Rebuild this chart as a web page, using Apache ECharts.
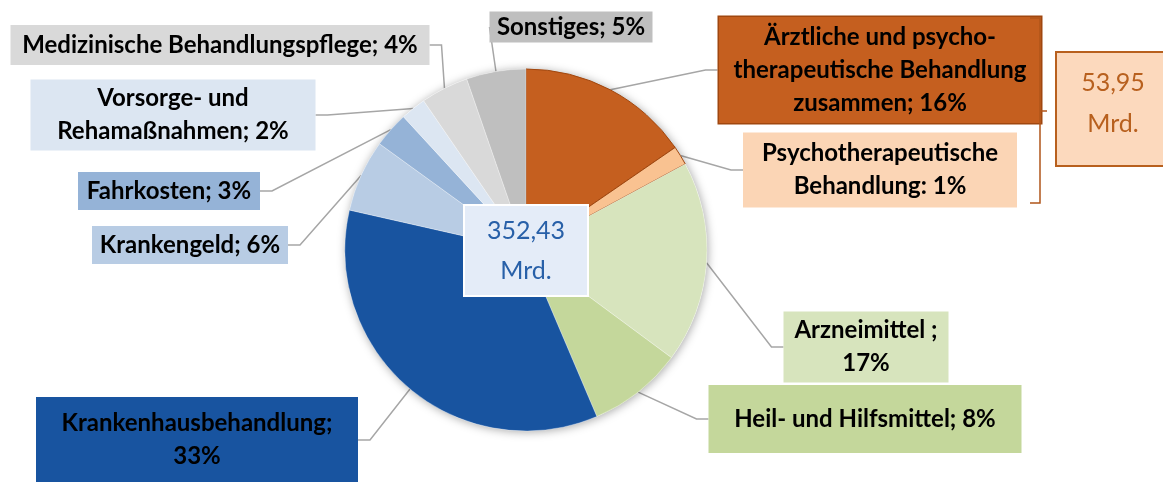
<!DOCTYPE html>
<html>
<head>
<meta charset="utf-8">
<script src="https://cdn.jsdelivr.net/npm/echarts@6/dist/echarts.min.js"></script>
<style>
  html, body { margin: 0; padding: 0; background: #fff; }
  #chart { width: 1163px; height: 482px; }
</style>
</head>
<body>
<div id="chart"></div>
<script>
// Ausgabenbereiche (Mrd. Euro, aus der Grafik geschaetzt)
const categories = [
  'Ärztliche und psychotherapeutische Behandlung',
  'Psychotherapeutische Behandlung',
  'Arzneimittel',
  'Heil- und Hilfsmittel',
  'Krankenhausbehandlung',
  'Krankengeld',
  'Fahrkosten',
  'Vorsorge- und Rehamaßnahmen',
  'Medizinische Behandlungspflege',
  'Sonstiges'
]
const values = [54.3, 6.0, 63.5, 29.8, 123.1, 22.7, 11.2, 8.0, 15.0, 18.7]
const labelTexts = [
  'Ärztliche und psycho-\ntherapeutische Behandlung\nzusammen; 16%',
  'Psychotherapeutische\nBehandlung: 1%',
  'Arzneimittel ;\n17%',
  'Heil- und Hilfsmittel; 8%',
  'Krankenhausbehandlung;\n33%',
  'Krankengeld; 6%',
  'Fahrkosten; 3%',
  'Vorsorge- und\nRehamaßnahmen; 2%',
  'Medizinische Behandlungspflege; 4%',
  'Sonstiges; 5%'
]
const totalText = '352,43\nMrd.'
const groupText = '53,95\nMrd.'

const sliceColors = ['#C55F1F', '#F9C291', '#D7E4BD', '#C4D79B', '#1854A0',
  '#B8CCE4', '#95B3D7', '#DCE6F2', '#D9D9D9', '#BFBFBF']
const boxColors = ['#C55F1F', '#FBD5B5', '#D7E4BD', '#C4D79B', '#1854A0',
  '#B8CCE4', '#95B3D7', '#DCE6F2', '#D9D9D9', '#BFBFBF']
// label box centres [x, y] and sizes [w, h]
const boxCenters = [[880, 70], [880, 170], [866, 347], [865, 419], [197, 440],
  [190, 245], [169, 191], [173, 115], [220, 45], [571, 27]]
const boxSizes = [[322, 106], [274, 75], [165, 71], [313, 68], [322, 86],
  [196, 38], [182, 38], [285, 71], [419, 40], [163, 31]]

const FONT = 'Lato, "Open Sans", sans-serif'

const chart = echarts.init(document.getElementById('chart'))

const pieData = categories.map((name, i) => {
  const isOrange = i < 2
  return {
    name: name,
    value: values[i],
    itemStyle: {
      color: sliceColors[i],
      borderColor: isOrange ? '#A0470F' : 'rgba(255,255,255,0.6)',
      borderWidth: isOrange ? 1 : 0.5
    },
    label: {
      backgroundColor: boxColors[i],
      width: boxSizes[i][0],
      height: boxSizes[i][1],
      borderColor: i === 0 ? '#A0470F' : 'transparent',
      borderWidth: i === 0 ? 1.5 : 0
    }
  }
})

chart.setOption({
  animation: false,
  series: [
    {
      // Schatten unter der Torte
      type: 'pie',
      silent: true,
      center: [526, 250],
      radius: 181,
      label: { show: false },
      itemStyle: {
        color: '#fff',
        shadowBlur: 10,
        shadowColor: 'rgba(0,0,0,0.35)',
        shadowOffsetX: 1,
        shadowOffsetY: 1
      },
      data: [{ value: values.reduce((a, b) => a + b, 0) }]
    },
    {
      type: 'pie',
      center: [526, 250],
      radius: 181,
      startAngle: 90,
      clockwise: true,
      data: pieData,
      label: {
        show: true,
        position: 'outside',
        formatter: p => labelTexts[p.dataIndex],
        fontFamily: FONT,
        fontWeight: 'bold',
        fontSize: 24,
        lineHeight: 33,
        color: '#000',
        align: 'center',
        verticalAlign: 'middle',
        padding: 0
      },
      labelLine: {
        show: true,
        length: 15,
        length2: 12,
        smooth: false,
        lineStyle: { color: '#A6A6A6', width: 1.5 }
      },
      labelLayout: params => {
        const i = params.dataIndex
        return {
          x: boxCenters[i][0],
          y: boxCenters[i][1],
          align: 'center',
          verticalAlign: 'middle'
        }
      }
    }
  ],
  graphic: [
    {
      type: 'rect',
      z: 100,
      shape: { x: 464, y: 205, width: 124, height: 91 },
      style: { fill: '#E4ECF8', stroke: '#fff', lineWidth: 2 }
    },
    {
      type: 'text',
      z: 101,
      x: 526,
      y: 251,
      style: {
        text: totalText,
        fill: '#2860A8',
        font: '25px ' + FONT,
        lineHeight: 40,
        align: 'center',
        verticalAlign: 'middle'
      }
    },
    {
      type: 'rect',
      z: 100,
      shape: { x: 1056, y: 52, width: 116, height: 114 },
      style: { fill: '#FCD9BD', stroke: '#B8601E', lineWidth: 2 }
    },
    {
      type: 'text',
      z: 101,
      x: 1113,
      y: 103,
      style: {
        text: groupText,
        fill: '#B8601E',
        font: '25px ' + FONT,
        lineHeight: 41,
        align: 'center',
        verticalAlign: 'middle'
      }
    },
    {
      // Klammer
      type: 'polyline',
      z: 90,
      shape: {
        points: [[1030, 18], [1040, 18], [1040, 203], [1030, 203]]
      },
      style: { stroke: '#B0551A', lineWidth: 1.5, fill: null }
    },
    {
      type: 'line',
      z: 90,
      shape: { x1: 1040, y1: 111, x2: 1047, y2: 111 },
      style: { stroke: '#B0551A', lineWidth: 1.5 }
    }
  ]
})
</script>
</body>
</html>
